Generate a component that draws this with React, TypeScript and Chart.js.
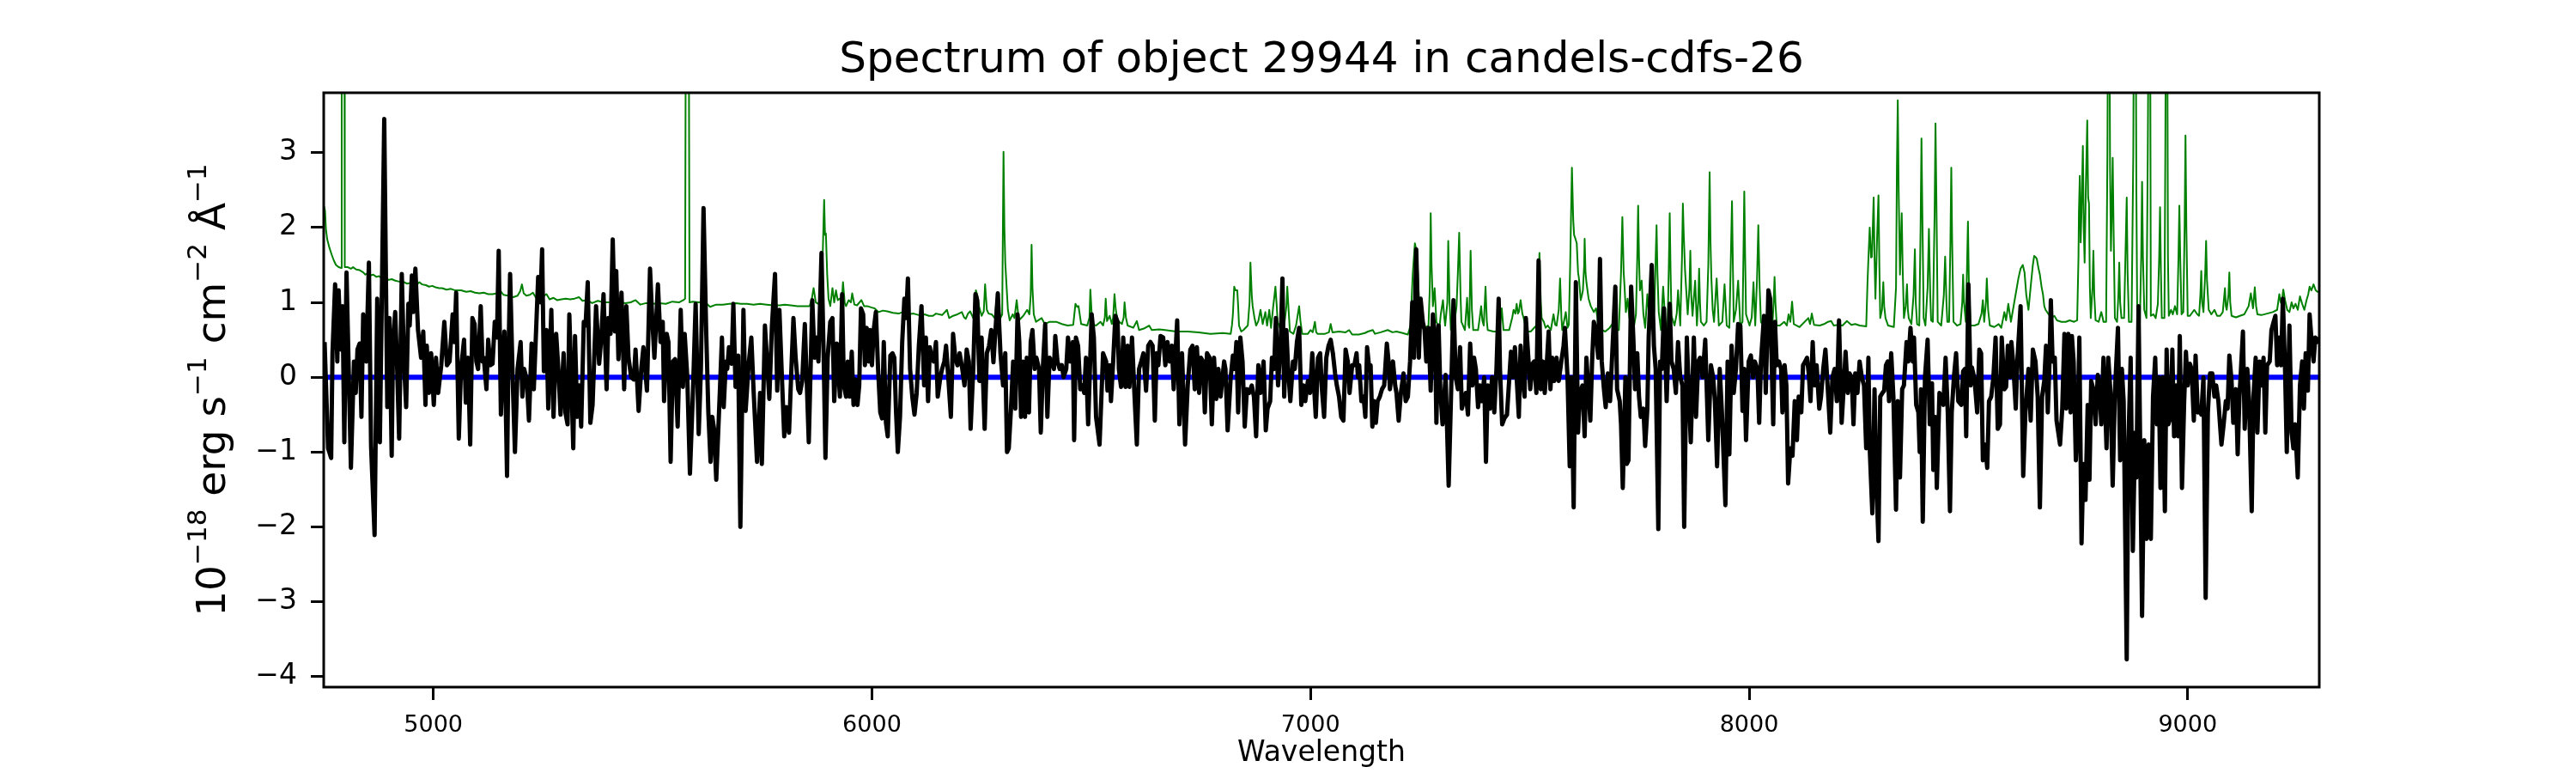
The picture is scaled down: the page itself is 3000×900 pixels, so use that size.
import { useEffect, useRef } from "react";
import { Chart, registerables } from "chart.js";

Chart.register(...registerables);

const TITLE = "Spectrum of object 29944 in candels-cdfs-26";
const X_LABEL = "Wavelength";
const Y_LABEL_PARTS: [string, boolean][] = [
  ["10", false],
  ["\u221218", true],
  [" erg s", false],
  ["\u22121", true],
  [" cm", false],
  ["\u22122", true],
  [" \u00c5", false],
  ["\u22121", true],
];
const X_MIN = 4750;
const X_MAX = 9300;
const Y_MIN = -4.14;
const Y_MAX = 3.8;
const X_TICKS = [5000, 6000, 7000, 8000, 9000];
const Y_TICKS = [-4, -3, -2, -1, 0, 1, 2, 3];

// observed flux (wavelength, value)
const FLUX: [number, number][] = [
  [4752, 0.47], [4760, -0.95], [4767, -1.08], [4770, 0.32], [4776, 1.24], [4781, 0.21], [4784, 1.16], [4789, 0.37], [4793, 0.95], [4797, -0.87],
  [4802, 1.40], [4812, -1.21], [4819, 0.21], [4823, -0.21], [4827, 0.37], [4832, 0.45], [4836, -0.53], [4840, 0.84], [4847, 0.21], [4853, 1.53],
  [4858, -0.92], [4866, -2.11], [4872, 1.05], [4878, -0.87], [4888, 3.45], [4895, -0.40], [4900, 0.79], [4905, -1.05], [4908, 0.45], [4913, 0.87],
  [4917, 0.21], [4922, -0.82], [4928, 1.38], [4933, 0.21], [4938, -0.40], [4943, 0.98], [4946, 0.69], [4951, 1.36], [4954, 0.87], [4959, 1.45],
  [4965, 0.63], [4972, 0.26], [4977, 0.61], [4982, -0.37], [4985, 0.42], [4990, -0.21], [4995, 0.32], [5001, -0.37], [5006, 0.26], [5011, -0.21],
  [5018, 0.16], [5025, 0.74], [5031, 0.16], [5037, 0.21], [5044, 0.84], [5048, 0.47], [5052, 1.13], [5058, -0.82], [5063, 0.11], [5070, 0.50],
  [5074, -0.34], [5079, 0.26], [5084, -0.90], [5089, 0.79], [5094, 0.71], [5098, 0.21], [5102, 0.11], [5108, 0.95], [5112, 0.21], [5115, 0.26],
  [5121, -0.16], [5125, 0.50], [5130, 0.16], [5135, 0.18], [5140, 0.74], [5145, 0.53], [5149, 1.69], [5154, -0.50], [5159, 0.32], [5162, 0.61],
  [5168, -1.32], [5171, 0.21], [5175, 1.38], [5181, -0.05], [5186, -1.00], [5192, 0.11], [5199, 0.47], [5203, -0.26], [5207, 0.11], [5213, -0.03],
  [5218, -0.58], [5224, 0.45], [5229, -0.16], [5239, 1.34], [5244, 1.00], [5248, 1.71], [5252, 0.08], [5258, 0.63], [5262, -0.42], [5269, 0.90],
  [5274, -0.53], [5280, 0.58], [5285, 0.11], [5290, -0.50], [5297, 0.32], [5301, -0.47], [5306, -0.63], [5310, 0.84], [5315, -0.11], [5319, -0.95],
  [5323, 0.55], [5328, -0.53], [5333, -0.11], [5337, -0.66], [5343, 0.74], [5347, 0.69], [5352, 1.27], [5358, -0.61], [5363, -0.37], [5371, 0.95],
  [5378, 0.18], [5383, 0.53], [5388, 1.11], [5395, -0.16], [5399, 0.79], [5404, 0.58], [5409, 1.84], [5414, 0.61], [5417, 1.42], [5422, 0.24],
  [5429, 1.13], [5435, -0.16], [5440, 0.95], [5445, 0.26], [5451, 0.00], [5457, -0.03], [5461, 0.37], [5468, -0.45], [5474, 0.11], [5479, 0.40],
  [5487, -0.18], [5494, 1.45], [5499, 0.79], [5504, 0.26], [5512, 1.24], [5518, 0.47], [5523, 0.74], [5526, -0.32], [5532, 0.58], [5536, 0.47],
  [5541, -1.13], [5546, 0.21], [5551, 0.24], [5557, -0.66], [5564, 0.90], [5569, -0.13], [5573, 0.58], [5579, 0.00], [5585, -1.29], [5592, -0.18],
  [5598, 0.98], [5605, -0.76], [5610, 0.11], [5616, 2.26], [5622, 0.63], [5627, -0.47], [5632, -1.13], [5636, -0.53], [5640, -0.69], [5645, -1.37],
  [5652, -0.37], [5658, 0.53], [5662, -0.40], [5667, 0.21], [5670, 0.11], [5674, 0.40], [5680, 0.18], [5684, 0.98], [5689, -0.13], [5695, 0.29],
  [5700, -2.00], [5707, 0.90], [5712, -0.45], [5719, 0.18], [5725, 0.53], [5730, -0.16], [5738, -1.13], [5745, -0.21], [5749, -1.16], [5756, 0.69],
  [5761, 0.21], [5766, -0.29], [5772, 0.69], [5779, 1.38], [5784, -0.18], [5789, 0.90], [5794, 0.11], [5800, -0.79], [5805, -0.40], [5811, -0.74],
  [5817, 0.21], [5821, 0.79], [5826, 0.26], [5832, -0.16], [5836, -0.21], [5841, -0.05], [5847, 0.71], [5856, -0.87], [5864, 1.03], [5869, 0.26],
  [5873, 0.53], [5878, 0.21], [5885, 1.66], [5890, 0.26], [5894, -1.08], [5899, 0.26], [5905, 0.74], [5910, 0.79], [5914, -0.32], [5920, 0.45],
  [5927, -0.26], [5932, 1.11], [5936, -0.11], [5941, -0.26], [5945, 0.21], [5949, -0.26], [5954, 0.34], [5958, -0.37], [5962, -0.03], [5967, -0.37],
  [5971, -0.11], [5975, 0.92], [5980, 0.84], [5984, 0.16], [5988, 0.66], [5993, 0.21], [5996, 0.63], [6000, 0.16], [6004, 0.63], [6009, 0.87],
  [6014, 0.11], [6019, -0.47], [6023, -0.55], [6027, 0.47], [6032, -0.61], [6036, -0.79], [6042, 0.29], [6047, 0.32], [6051, 0.26], [6055, -0.47],
  [6059, -1.00], [6064, -0.53], [6069, 0.47], [6074, 1.05], [6078, 0.79], [6082, 1.32], [6087, 0.11], [6092, -0.26], [6097, -0.50], [6102, -0.21],
  [6107, 0.42], [6113, 0.95], [6119, -0.11], [6123, 0.53], [6128, -0.32], [6132, 0.40], [6136, 0.26], [6141, 0.21], [6146, 0.47], [6150, -0.26],
  [6156, 0.00], [6160, 0.11], [6165, 0.21], [6169, 0.42], [6174, 0.00], [6180, -0.53], [6185, 0.58], [6190, 0.26], [6195, 0.16], [6200, 0.32],
  [6206, 0.11], [6211, -0.11], [6216, 0.37], [6221, 0.21], [6225, -0.69], [6231, 0.11], [6236, 1.11], [6240, 1.03], [6245, -0.05], [6250, 0.53],
  [6257, -0.69], [6262, 0.32], [6267, 0.42], [6272, 0.63], [6277, 0.20], [6287, 1.12], [6293, 0.32], [6299, -0.11], [6304, 0.32], [6308, -1.00],
  [6312, -0.95], [6317, -0.42], [6322, 0.21], [6327, -0.42], [6332, 0.84], [6336, 0.47], [6340, -0.53], [6345, 0.21], [6349, -0.53], [6353, 0.26],
  [6358, -0.47], [6362, 0.47], [6366, 0.63], [6371, 0.11], [6375, 0.26], [6381, 0.11], [6385, -0.74], [6390, 0.16], [6395, 0.71], [6400, -0.53],
  [6405, 0.26], [6410, 0.21], [6415, 0.11], [6418, 0.55], [6423, 0.21], [6428, 0.11], [6433, 0.16], [6437, 0.00], [6443, 0.11], [6447, 0.53],
  [6452, 0.21], [6458, 0.47], [6461, -0.84], [6465, 0.53], [6470, 0.42], [6475, -0.16], [6480, -0.11], [6484, -0.21], [6488, 0.26], [6493, -0.63],
  [6501, 0.84], [6506, 0.53], [6511, -0.53], [6519, -0.90], [6527, 0.32], [6534, 0.21], [6537, -0.18], [6542, 0.16], [6545, -0.32], [6550, 0.21],
  [6555, 0.82], [6560, 0.74], [6563, 0.11], [6568, -0.13], [6573, 0.53], [6578, -0.13], [6583, 0.42], [6587, -0.13], [6593, 0.53], [6598, -0.16],
  [6604, -0.90], [6609, 0.11], [6614, 0.21], [6619, 0.32], [6625, -0.18], [6630, 0.42], [6635, 0.47], [6640, 0.42], [6645, -0.58], [6649, 0.32],
  [6653, 0.16], [6658, 0.55], [6664, 0.53], [6669, 0.16], [6674, 0.47], [6679, 0.21], [6684, 0.42], [6688, -0.16], [6696, 0.76], [6701, -0.63],
  [6707, 0.32], [6714, -0.90], [6720, -0.11], [6726, 0.37], [6731, 0.42], [6736, -0.16], [6741, 0.40], [6746, -0.21], [6750, 0.26], [6755, 0.21],
  [6759, -0.47], [6764, 0.32], [6770, 0.26], [6775, -0.63], [6780, 0.26], [6785, -0.29], [6790, 0.11], [6795, -0.26], [6803, 0.21], [6806, 0.11],
  [6811, -0.71], [6818, 0.00], [6823, 0.29], [6827, 0.11], [6831, 0.47], [6835, -0.47], [6840, 0.53], [6845, 0.21], [6850, -0.66], [6855, -0.16],
  [6860, -0.21], [6866, -0.11], [6871, -0.26], [6876, -0.79], [6881, 0.16], [6886, -0.21], [6893, 0.21], [6898, -0.71], [6902, -0.42], [6908, -0.32],
  [6912, 0.26], [6917, 0.11], [6921, 0.79], [6926, -0.11], [6932, 0.47], [6936, 1.32], [6940, -0.26], [6945, 0.63], [6949, 0.11], [6954, -0.32],
  [6960, 0.21], [6964, 0.11], [6969, 0.47], [6974, 0.66], [6979, -0.37], [6984, -0.11], [6988, -0.32], [6994, -0.05], [6999, -0.21], [7004, 0.32],
  [7008, -0.11], [7012, -0.53], [7017, 0.26], [7022, 0.32], [7026, -0.16], [7031, -0.53], [7036, 0.26], [7041, 0.42], [7046, 0.50], [7051, 0.32],
  [7056, 0.05], [7060, -0.11], [7065, -0.26], [7070, -0.53], [7075, -0.58], [7080, 0.37], [7085, 0.21], [7089, -0.21], [7095, 0.16], [7100, 0.16],
  [7105, 0.32], [7108, 0.00], [7111, 0.16], [7116, -0.32], [7121, -0.26], [7125, -0.53], [7129, 0.40], [7134, 0.11], [7137, 0.16], [7141, -0.66],
  [7145, -0.32], [7149, -0.61], [7153, -0.32], [7158, -0.26], [7163, -0.16], [7168, -0.11], [7174, 0.45], [7178, 0.21], [7181, -0.16], [7188, 0.21],
  [7193, -0.11], [7196, -0.21], [7201, -0.58], [7206, -0.21], [7212, 0.05], [7217, -0.32], [7222, -0.26], [7227, 0.21], [7232, 1.00], [7236, 0.26],
  [7241, 1.71], [7247, 0.26], [7251, 1.05], [7256, 0.74], [7260, 0.63], [7264, 0.21], [7269, 0.66], [7274, -0.18], [7279, 0.84], [7284, 0.53],
  [7287, -0.61], [7292, 0.69], [7296, -0.18], [7301, -0.63], [7308, 0.03], [7315, -1.45], [7321, -0.11], [7326, 1.03], [7331, 0.00], [7336, -0.16],
  [7341, 0.40], [7345, -0.42], [7354, -0.21], [7359, -0.50], [7364, 0.45], [7369, -0.11], [7373, 0.26], [7377, 0.11], [7382, -0.40], [7386, -0.11],
  [7391, -0.32], [7396, 0.00], [7400, -1.13], [7404, -0.11], [7409, -0.42], [7414, 0.00], [7419, -0.47], [7424, 0.11], [7429, 1.05], [7432, 0.11],
  [7437, -0.63], [7442, -0.55], [7448, -0.50], [7457, 0.34], [7462, 0.00], [7466, 0.40], [7471, -0.11], [7475, -0.53], [7479, 0.42], [7483, 0.00],
  [7488, -0.26], [7491, 0.79], [7496, 0.32], [7501, -0.16], [7506, 0.18], [7510, 0.21], [7515, -0.21], [7520, 1.56], [7525, -0.16], [7530, 0.21],
  [7534, -0.21], [7538, 0.11], [7543, 0.61], [7547, -0.16], [7551, 0.26], [7556, -0.05], [7561, 0.26], [7566, -0.05], [7573, 0.26], [7577, 0.42],
  [7580, 0.66], [7586, 0.00], [7591, -1.19], [7595, 0.00], [7600, -1.74], [7605, 1.27], [7610, -0.74], [7614, -0.21], [7620, -0.11], [7625, -0.79],
  [7629, 0.26], [7634, -0.21], [7638, -0.58], [7642, 0.21], [7646, 0.74], [7651, 0.61], [7656, 0.26], [7660, 1.58], [7664, 0.21], [7669, -0.16],
  [7673, -0.40], [7678, 0.05], [7683, -0.32], [7688, 0.32], [7695, 1.21], [7699, -0.16], [7705, -0.32], [7708, -0.63], [7712, -1.48], [7718, 0.00],
  [7721, -1.16], [7725, -1.11], [7731, 1.21], [7736, 0.53], [7740, -0.16], [7745, 0.32], [7749, -0.26], [7753, -0.53], [7759, -0.42], [7763, -0.92],
  [7768, -0.42], [7771, 0.53], [7778, 1.50], [7783, 0.42], [7787, 0.11], [7793, -2.03], [7797, 0.21], [7801, 0.11], [7806, 0.92], [7812, -0.32],
  [7819, 0.98], [7823, 0.21], [7828, 0.11], [7833, -0.21], [7838, 0.47], [7843, 0.00], [7848, -0.11], [7852, -2.00], [7858, 0.53], [7862, -0.11],
  [7867, -0.87], [7874, 0.53], [7879, -0.53], [7884, 0.21], [7888, 0.26], [7894, 0.00], [7900, 0.50], [7907, -0.84], [7913, 0.16], [7918, 0.00],
  [7922, -0.32], [7927, -1.19], [7933, 0.11], [7938, -0.47], [7946, -1.71], [7951, 0.21], [7955, -1.03], [7960, 0.42], [7965, -0.21], [7970, 0.11],
  [7975, 0.71], [7980, 0.69], [7985, -0.45], [7989, 0.11], [7993, -0.84], [7999, 0.21], [8004, 0.29], [8009, 0.00], [8013, 0.21], [8019, 0.11],
  [8023, -0.61], [8027, 0.21], [8034, 0.82], [8038, -0.21], [8044, 1.16], [8048, 1.05], [8055, -0.63], [8059, 0.74], [8063, 0.16], [8068, 0.21],
  [8073, 0.11], [8076, -0.47], [8081, 0.16], [8085, -0.11], [8089, -1.42], [8094, -0.95], [8099, -1.05], [8104, -0.32], [8109, -0.84], [8113, -0.26],
  [8119, -0.47], [8123, 0.16], [8128, 0.21], [8132, 0.26], [8136, 0.05], [8140, -0.32], [8145, 0.47], [8149, -0.11], [8154, 0.16], [8160, -0.42],
  [8164, -0.26], [8169, 0.11], [8174, 0.37], [8179, -0.11], [8185, -0.74], [8190, 0.00], [8195, 0.11], [8200, -0.32], [8205, 0.76], [8211, -0.61],
  [8216, -0.11], [8220, 0.34], [8225, -0.21], [8229, 0.05], [8234, 0.00], [8238, -0.63], [8242, 0.05], [8247, -0.21], [8252, 0.21], [8257, 0.00],
  [8262, -0.11], [8267, -0.95], [8272, 0.26], [8275, -0.95], [8281, -1.82], [8286, -0.16], [8290, -1.37], [8295, -2.19], [8299, -0.26], [8304, -0.21],
  [8308, -0.18], [8312, 0.16], [8316, 0.21], [8319, -0.32], [8324, 0.32], [8329, -0.26], [8335, -1.77], [8339, -0.32], [8344, -1.34], [8349, -0.16],
  [8353, -0.11], [8359, 0.47], [8363, 0.21], [8368, 0.66], [8373, 0.21], [8376, 0.53], [8381, -0.37], [8386, -0.47], [8389, -1.00], [8392, -0.16],
  [8396, -1.93], [8401, 0.00], [8407, 0.50], [8412, -0.63], [8417, -0.08], [8420, -1.24], [8425, -0.53], [8428, -1.48], [8434, -0.21], [8438, -0.26],
  [8443, -0.37], [8448, 0.26], [8453, -0.47], [8458, -1.79], [8462, -0.47], [8467, 0.00], [8472, 0.32], [8477, -0.32], [8484, -0.37], [8488, 0.08],
  [8492, 0.11], [8495, -0.79], [8500, 1.24], [8505, -0.11], [8508, 0.13], [8514, -0.03], [8520, -0.47], [8525, 0.37], [8529, 0.32], [8533, -1.11],
  [8538, -0.90], [8543, -1.21], [8547, -0.32], [8552, -0.26], [8557, 0.00], [8562, 0.53], [8567, -0.69], [8572, -0.63], [8576, 0.53], [8582, -0.16],
  [8586, -0.13], [8590, 0.42], [8595, 0.00], [8598, 0.47], [8602, 0.21], [8608, -0.42], [8612, 0.26], [8619, 0.95], [8625, -1.32], [8630, -0.47],
  [8637, 0.11], [8642, -0.58], [8647, 0.37], [8653, 0.21], [8658, -0.26], [8663, -1.74], [8668, -0.26], [8673, -0.05], [8677, 0.42], [8681, -0.47],
  [8685, 0.21], [8688, 1.03], [8692, 0.21], [8697, 0.26], [8701, -0.58], [8705, -0.74], [8709, -0.90], [8714, -0.42], [8719, 0.58], [8723, -0.42],
  [8728, 0.58], [8733, -0.47], [8736, 0.55], [8740, 0.21], [8745, -1.11], [8749, -0.63], [8753, 0.53], [8758, -2.22], [8762, -1.16], [8767, -1.64],
  [8772, -0.37], [8776, -1.37], [8780, -0.05], [8785, -0.16], [8790, -0.63], [8795, 0.03], [8799, -0.11], [8803, -0.63], [8808, 0.26], [8815, -0.95],
  [8819, 0.26], [8824, -0.21], [8829, -1.45], [8834, -0.21], [8841, 0.66], [8846, -1.11], [8850, 0.11], [8854, -0.32], [8861, -3.77], [8865, -0.84],
  [8870, 0.26], [8875, -2.32], [8880, -0.74], [8883, -1.34], [8888, 0.95], [8891, -0.58], [8896, -3.19], [8901, -0.84], [8906, -2.16], [8911, -0.90],
  [8916, -2.16], [8921, -0.26], [8926, 0.26], [8930, -0.63], [8934, 0.00], [8938, -1.48], [8943, 0.00], [8948, -1.79], [8952, 0.37], [8956, -0.63],
  [8961, -0.53], [8965, 0.37], [8969, -0.79], [8974, -0.11], [8978, -0.79], [8982, 0.55], [8987, -1.48], [8992, -0.32], [8996, 0.34], [9000, -0.11],
  [9005, 0.18], [9009, 0.11], [9014, -0.58], [9018, 0.29], [9023, -0.47], [9028, -0.42], [9031, -0.50], [9036, 0.00], [9041, -2.95], [9046, -0.47],
  [9051, 0.05], [9056, 0.05], [9061, -0.26], [9065, -0.11], [9070, -0.32], [9077, -0.90], [9082, -0.63], [9087, -0.32], [9091, -0.42], [9095, 0.29],
  [9100, -0.05], [9104, -0.61], [9110, -0.16], [9114, -1.03], [9118, -0.26], [9121, 0.05], [9126, 0.61], [9130, -0.69], [9136, 0.11], [9140, -0.32],
  [9146, -1.79], [9150, -0.26], [9155, 0.26], [9159, -0.74], [9164, 0.21], [9168, -0.11], [9173, 0.26], [9177, -0.74], [9181, 0.16], [9187, 0.21],
  [9191, 0.63], [9196, 0.74], [9200, 0.82], [9204, 0.16], [9209, 0.53], [9213, 0.16], [9217, 1.05], [9222, 0.11], [9226, -1.00], [9232, 0.69],
  [9237, -0.74], [9241, -0.95], [9245, -0.63], [9251, -1.34], [9256, -0.11], [9261, 0.21], [9265, -0.42], [9269, 0.32], [9274, -0.18], [9278, 0.84],
  [9282, 0.53], [9287, 0.21], [9291, 0.53], [9295, 0.47], [9300, 0.53],
];

// noise / sky spectrum (wavelength, value); spikes above the top are clipped
const NOISE: [number, number][] = [
  [4751, 2.28], [4753, 2.22], [4755, 1.98], [4758, 1.84], [4763, 1.73], [4768, 1.64], [4773, 1.56], [4778, 1.50], [4784, 1.47], [4790, 1.46],
  [4791, 6], [4797, 6], [4798, 1.47], [4805, 1.47], [4812, 1.45], [4817, 1.47], [4824, 1.44], [4832, 1.43], [4840, 1.40], [4845, 1.37],
  [4850, 1.39], [4856, 1.36], [4863, 1.37], [4870, 1.34], [4876, 1.35], [4883, 1.32], [4890, 1.33], [4898, 1.30], [4905, 1.31], [4913, 1.29],
  [4920, 1.28], [4927, 1.27], [4933, 1.27], [4940, 1.25], [4948, 1.26], [4955, 1.24], [4963, 1.24], [4968, 1.27], [4974, 1.24], [4983, 1.23],
  [4990, 1.21], [4998, 1.22], [5005, 1.20], [5013, 1.19], [5020, 1.19], [5030, 1.17], [5040, 1.18], [5050, 1.16], [5063, 1.16], [5075, 1.14],
  [5085, 1.15], [5095, 1.13], [5105, 1.12], [5115, 1.13], [5125, 1.11], [5135, 1.11], [5145, 1.12], [5152, 1.16], [5160, 1.10], [5170, 1.09],
  [5182, 1.07], [5192, 1.09], [5198, 1.15], [5202, 1.24], [5206, 1.12], [5212, 1.09], [5220, 1.10], [5227, 1.13], [5234, 1.06], [5242, 1.05],
  [5250, 1.08], [5258, 1.11], [5265, 1.04], [5274, 1.06], [5282, 1.03], [5292, 1.04], [5302, 1.05], [5312, 1.04], [5322, 1.05], [5332, 1.07],
  [5340, 1.02], [5350, 1.03], [5362, 0.99], [5375, 1.02], [5388, 1.00], [5400, 1.00], [5412, 0.99], [5425, 1.00], [5438, 0.99], [5450, 1.00],
  [5461, 1.03], [5472, 0.97], [5485, 0.99], [5500, 0.98], [5515, 0.99], [5530, 0.98], [5545, 1.01], [5560, 1.00], [5570, 1.03], [5574, 1.05],
  [5576, 6], [5582, 6], [5584, 1.00], [5592, 1.01], [5605, 1.00], [5618, 1.01], [5631, 0.94], [5645, 0.97], [5660, 0.97], [5675, 0.98],
  [5690, 0.99], [5701, 0.98], [5715, 0.98], [5730, 0.97], [5745, 0.98], [5760, 0.97], [5775, 0.96], [5790, 0.96], [5801, 0.97], [5815, 0.96],
  [5830, 0.95], [5845, 0.95], [5858, 0.95], [5863, 1.05], [5867, 1.19], [5872, 1.00], [5878, 0.98], [5885, 1.10], [5888, 1.69], [5891, 2.37],
  [5893, 1.90], [5895, 1.92], [5898, 1.37], [5901, 1.05], [5905, 0.95], [5910, 1.19], [5914, 1.00], [5918, 1.16], [5922, 1.03], [5927, 1.05],
  [5931, 1.00], [5934, 1.27], [5938, 0.99], [5941, 0.95], [5947, 1.03], [5952, 1.00], [5955, 1.12], [5960, 0.97], [5966, 0.96], [5976, 1.03],
  [5982, 0.95], [5989, 0.95], [6000, 0.93], [6006, 0.92], [6015, 0.87], [6025, 0.89], [6035, 0.88], [6048, 0.86], [6061, 0.85], [6070, 0.87],
  [6081, 0.84], [6095, 0.85], [6107, 0.83], [6120, 0.84], [6130, 0.82], [6139, 0.82], [6146, 0.85], [6160, 0.83], [6171, 0.90], [6176, 0.79],
  [6185, 0.82], [6195, 0.84], [6205, 0.87], [6210, 0.80], [6214, 0.78], [6219, 0.85], [6224, 0.88], [6231, 0.79], [6237, 1.16], [6241, 1.08],
  [6244, 0.95], [6250, 0.82], [6255, 0.88], [6258, 1.24], [6262, 0.90], [6266, 0.85], [6273, 0.84], [6280, 0.79], [6286, 1.13], [6290, 0.90],
  [6293, 0.79], [6297, 0.84], [6300, 3.01], [6302, 2.00], [6304, 1.53], [6307, 1.21], [6310, 0.90], [6314, 0.76], [6321, 0.84], [6325, 0.79],
  [6330, 1.03], [6335, 0.76], [6345, 0.82], [6354, 0.90], [6359, 0.84], [6362, 1.10], [6364, 1.77], [6366, 1.20], [6369, 0.84], [6374, 0.74],
  [6387, 0.79], [6394, 0.71], [6405, 0.74], [6420, 0.74], [6433, 0.71], [6446, 0.69], [6459, 0.70], [6464, 0.98], [6468, 0.94], [6471, 0.95],
  [6477, 0.71], [6491, 0.69], [6496, 0.80], [6498, 1.17], [6501, 0.85], [6503, 0.71], [6511, 0.69], [6521, 0.74], [6527, 0.69], [6531, 0.80],
  [6533, 1.05], [6536, 0.75], [6542, 0.82], [6547, 0.71], [6550, 0.80], [6553, 1.11], [6556, 0.90], [6560, 0.76], [6570, 0.71], [6574, 0.80],
  [6576, 1.00], [6579, 0.80], [6583, 0.69], [6596, 0.66], [6604, 0.75], [6609, 0.63], [6620, 0.65], [6632, 0.69], [6638, 0.63], [6655, 0.64],
  [6668, 0.63], [6694, 0.61], [6720, 0.61], [6745, 0.60], [6772, 0.58], [6800, 0.59], [6818, 0.58], [6821, 0.70], [6823, 0.84], [6826, 1.21],
  [6829, 1.16], [6833, 1.16], [6835, 0.95], [6837, 0.69], [6842, 0.61], [6847, 0.63], [6857, 0.69], [6861, 1.00], [6863, 1.53], [6866, 1.10],
  [6868, 0.95], [6872, 0.80], [6876, 0.69], [6881, 0.75], [6886, 0.90], [6891, 0.71], [6897, 0.87], [6901, 0.69], [6906, 0.90], [6910, 0.66],
  [6915, 0.95], [6918, 1.10], [6920, 1.21], [6923, 0.95], [6925, 0.74], [6930, 0.66], [6935, 0.95], [6940, 0.69], [6945, 0.95], [6947, 1.21],
  [6950, 0.90], [6953, 0.61], [6961, 0.58], [6967, 0.69], [6970, 0.80], [6974, 0.95], [6977, 0.75], [6981, 0.58], [6994, 0.58], [7000, 0.63],
  [7005, 0.60], [7010, 0.74], [7013, 0.60], [7016, 0.58], [7033, 0.58], [7042, 0.60], [7046, 0.71], [7050, 0.60], [7065, 0.61], [7080, 0.60],
  [7088, 0.63], [7095, 0.57], [7110, 0.57], [7124, 0.59], [7131, 0.61], [7142, 0.63], [7147, 0.58], [7160, 0.60], [7176, 0.63], [7187, 0.60],
  [7196, 0.61], [7210, 0.59], [7222, 0.57], [7228, 0.69], [7233, 1.37], [7238, 1.79], [7243, 1.64], [7248, 0.95], [7254, 0.74], [7261, 0.66],
  [7269, 0.69], [7272, 1.20], [7274, 2.19], [7276, 1.50], [7279, 0.95], [7283, 1.19], [7287, 0.74], [7294, 0.66], [7297, 0.84], [7302, 1.03],
  [7305, 0.80], [7307, 0.69], [7312, 1.00], [7314, 1.82], [7317, 1.00], [7320, 0.63], [7326, 0.63], [7333, 0.95], [7336, 1.40], [7339, 1.93],
  [7342, 1.10], [7344, 0.74], [7352, 0.63], [7357, 1.06], [7360, 0.70], [7362, 0.66], [7365, 1.69], [7368, 0.90], [7371, 0.63], [7382, 0.63],
  [7386, 0.80], [7389, 0.95], [7392, 0.75], [7395, 0.69], [7399, 1.21], [7402, 0.75], [7404, 0.63], [7417, 0.61], [7431, 0.61], [7436, 0.92],
  [7440, 0.63], [7453, 0.63], [7460, 0.80], [7463, 0.90], [7467, 0.85], [7470, 0.98], [7473, 0.85], [7475, 0.87], [7479, 1.03], [7483, 0.85],
  [7486, 0.79], [7492, 0.61], [7502, 0.61], [7515, 0.69], [7519, 1.10], [7522, 1.66], [7525, 1.00], [7527, 0.79], [7532, 0.74], [7536, 0.66],
  [7541, 0.69], [7548, 0.63], [7554, 0.84], [7558, 0.70], [7561, 0.69], [7566, 0.90], [7569, 1.32], [7572, 0.80], [7574, 0.63], [7582, 0.87],
  [7586, 0.66], [7589, 0.70], [7592, 1.50], [7596, 2.80], [7599, 2.10], [7601, 1.90], [7604, 1.85], [7607, 1.79], [7610, 1.40], [7612, 1.32],
  [7616, 1.03], [7619, 1.10], [7621, 1.16], [7624, 1.50], [7625, 1.85], [7627, 1.40], [7629, 1.27], [7634, 1.05], [7639, 0.95], [7646, 0.87],
  [7651, 0.92], [7654, 0.80], [7657, 0.63], [7665, 0.63], [7672, 0.61], [7682, 0.66], [7688, 0.71], [7695, 0.63], [7703, 0.63], [7708, 1.40],
  [7711, 2.14], [7714, 1.40], [7716, 1.21], [7719, 0.87], [7723, 1.05], [7727, 0.79], [7732, 0.74], [7737, 0.66], [7742, 0.84], [7745, 1.60],
  [7747, 2.29], [7749, 1.60], [7751, 1.16], [7755, 1.29], [7759, 0.84], [7763, 0.66], [7768, 1.11], [7773, 0.74], [7779, 0.63], [7784, 0.90],
  [7787, 1.60], [7789, 2.03], [7791, 1.40], [7794, 0.87], [7799, 0.63], [7804, 1.21], [7809, 0.74], [7814, 0.63], [7817, 1.50], [7819, 2.19],
  [7821, 1.40], [7823, 0.82], [7830, 0.69], [7835, 0.85], [7838, 1.16], [7843, 0.69], [7847, 1.60], [7849, 2.32], [7851, 1.90], [7854, 1.42],
  [7860, 0.84], [7864, 1.20], [7866, 1.69], [7868, 1.10], [7871, 0.82], [7877, 1.29], [7881, 0.69], [7884, 1.00], [7886, 1.45], [7888, 1.00],
  [7890, 0.74], [7897, 0.69], [7903, 0.74], [7907, 1.50], [7910, 2.74], [7912, 1.80], [7914, 1.32], [7917, 0.90], [7920, 0.74], [7926, 1.32],
  [7931, 0.69], [7939, 0.74], [7944, 1.24], [7949, 0.69], [7955, 0.66], [7958, 1.50], [7961, 2.35], [7963, 1.50], [7965, 0.74], [7970, 0.90],
  [7975, 1.29], [7980, 0.69], [7985, 0.74], [7987, 1.60], [7989, 2.48], [7991, 1.60], [7993, 0.84], [8001, 0.69], [8006, 0.80], [8010, 1.27],
  [8014, 0.69], [8018, 1.30], [8021, 2.03], [8024, 1.20], [8027, 0.74], [8034, 0.66], [8044, 0.71], [8053, 0.69], [8056, 1.00], [8058, 1.34],
  [8060, 1.00], [8063, 0.69], [8070, 0.69], [8080, 0.74], [8086, 0.69], [8090, 0.84], [8094, 0.74], [8098, 1.01], [8102, 0.71], [8115, 0.67],
  [8135, 0.79], [8139, 0.71], [8143, 0.85], [8148, 0.70], [8161, 0.69], [8171, 0.71], [8180, 0.74], [8187, 0.75], [8193, 0.69], [8203, 0.70],
  [8213, 0.69], [8223, 0.75], [8233, 0.70], [8242, 0.71], [8252, 0.69], [8267, 0.68], [8270, 1.27], [8272, 1.58], [8275, 2.00], [8278, 1.60],
  [8280, 1.61], [8282, 2.00], [8284, 2.40], [8286, 1.60], [8288, 1.05], [8292, 1.90], [8295, 2.43], [8297, 1.50], [8299, 0.79], [8303, 0.90],
  [8306, 1.27], [8308, 0.95], [8311, 0.79], [8317, 0.69], [8330, 0.67], [8335, 1.20], [8337, 2.80], [8339, 3.70], [8341, 2.50], [8344, 1.37],
  [8346, 1.80], [8348, 2.19], [8350, 1.50], [8353, 0.79], [8357, 0.95], [8360, 1.24], [8362, 0.90], [8364, 0.79], [8370, 0.71], [8375, 1.10],
  [8378, 1.71], [8380, 1.00], [8383, 0.71], [8388, 0.69], [8391, 2.00], [8393, 3.19], [8395, 2.20], [8398, 0.79], [8402, 0.69], [8407, 1.20],
  [8410, 1.98], [8413, 1.10], [8415, 0.76], [8419, 0.74], [8423, 2.20], [8425, 3.39], [8427, 2.40], [8430, 0.74], [8438, 0.69], [8444, 1.10],
  [8447, 1.61], [8450, 1.00], [8452, 0.74], [8456, 0.74], [8459, 1.80], [8461, 2.80], [8463, 1.80], [8466, 0.74], [8474, 0.69], [8482, 0.71],
  [8486, 1.00], [8488, 1.37], [8490, 1.00], [8494, 0.74], [8497, 1.50], [8499, 2.08], [8501, 1.30], [8505, 0.69], [8514, 0.69], [8523, 0.71],
  [8530, 0.85], [8533, 1.03], [8536, 0.74], [8540, 1.00], [8542, 1.32], [8545, 0.90], [8549, 0.69], [8559, 0.67], [8569, 0.71], [8575, 0.66],
  [8582, 0.87], [8586, 0.76], [8591, 0.98], [8597, 0.74], [8604, 0.98], [8609, 1.15], [8614, 1.32], [8619, 1.45], [8624, 1.50], [8628, 1.40],
  [8632, 1.10], [8637, 0.90], [8643, 1.27], [8647, 1.50], [8650, 1.62], [8654, 1.60], [8656, 1.58], [8660, 1.45], [8663, 1.37], [8667, 1.20],
  [8670, 1.11], [8673, 0.95], [8676, 0.90], [8683, 0.84], [8689, 0.79], [8696, 0.82], [8702, 0.76], [8712, 0.74], [8722, 0.74], [8731, 0.76],
  [8741, 0.74], [8748, 0.76], [8751, 1.60], [8752, 2.20], [8754, 2.69], [8756, 1.80], [8758, 2.22], [8761, 3.09], [8763, 2.00], [8765, 1.53],
  [8768, 2.60], [8771, 3.43], [8773, 2.40], [8775, 2.32], [8777, 1.20], [8779, 0.79], [8783, 1.20], [8785, 1.69], [8787, 1.10], [8790, 0.76],
  [8797, 0.74], [8803, 0.87], [8806, 0.80], [8808, 0.74], [8814, 0.74], [8817, 3.00], [8819, 6], [8821, 6], [8823, 2.80], [8825, 1.69],
  [8827, 2.20], [8829, 2.93], [8831, 2.00], [8834, 0.79], [8839, 0.74], [8842, 1.10], [8844, 1.53], [8846, 1.00], [8849, 0.79], [8855, 0.79],
  [8858, 1.60], [8861, 2.40], [8863, 1.40], [8866, 0.74], [8872, 0.74], [8876, 3.00], [8878, 6], [8881, 6], [8883, 2.50], [8885, 0.79],
  [8891, 0.74], [8894, 1.60], [8896, 2.61], [8898, 1.60], [8901, 0.90], [8906, 0.79], [8909, 3.00], [8912, 6], [8914, 6], [8916, 0.82],
  [8922, 0.84], [8927, 0.79], [8932, 0.98], [8935, 1.60], [8937, 2.27], [8939, 1.40], [8941, 0.79], [8947, 0.79], [8949, 3.00], [8951, 6],
  [8953, 6], [8955, 1.60], [8957, 0.82], [8962, 0.90], [8966, 0.84], [8971, 0.95], [8976, 0.84], [8979, 1.60], [8981, 2.29], [8983, 1.60],
  [8986, 0.84], [8990, 0.87], [8993, 2.00], [8995, 3.23], [8997, 2.00], [9000, 0.82], [9005, 0.82], [9015, 0.90], [9022, 0.84], [9026, 0.82],
  [9029, 1.10], [9031, 1.42], [9033, 1.00], [9036, 0.87], [9040, 1.40], [9042, 1.82], [9044, 1.30], [9048, 0.90], [9054, 0.84], [9061, 0.90],
  [9067, 0.82], [9074, 0.82], [9080, 0.87], [9085, 1.19], [9087, 0.95], [9089, 0.90], [9093, 1.10], [9095, 1.40], [9097, 1.00], [9100, 0.82],
  [9110, 0.80], [9119, 0.82], [9129, 0.84], [9139, 0.95], [9144, 1.12], [9147, 1.00], [9149, 0.92], [9153, 1.20], [9156, 0.95], [9159, 0.84],
  [9168, 0.83], [9181, 0.85], [9194, 0.87], [9204, 0.90], [9209, 1.11], [9212, 1.00], [9214, 0.98], [9218, 1.17], [9222, 1.03], [9227, 0.90],
  [9232, 0.87], [9237, 1.00], [9241, 0.92], [9246, 0.98], [9251, 0.90], [9256, 1.08], [9261, 0.98], [9266, 0.90], [9271, 1.03], [9275, 1.11],
  [9278, 1.21], [9282, 1.16], [9287, 1.24], [9292, 1.16], [9296, 1.14], [9300, 1.14],
];

// zero-level model line
const MODEL: [number, number][] = [
  [4750, 0],
  [9300, 0],
];

const FONT = "'DejaVu Sans', 'Liberation Sans', sans-serif";

const toPoints = (arr: [number, number][]) => arr.map(([x, y]) => ({ x, y }));
const fmt = (v: number) => (v < 0 ? "\u2212" + Math.abs(v) : String(v));

const decorPlugin = {
  id: "decor",
  afterDraw(chart: any) {
    const { ctx, chartArea } = chart;
    const { left, right, top, bottom } = chartArea;
    ctx.save();
    // frame
    ctx.strokeStyle = "#000";
    ctx.lineWidth = 3;
    ctx.strokeRect(left, top, right - left, bottom - top);
    ctx.fillStyle = "#000";
    const cx = (left + right) / 2;
    // title
    ctx.font = `50px ${FONT}`;
    ctx.textAlign = "center";
    ctx.textBaseline = "alphabetic";
    ctx.fillText(TITLE, cx, 84);
    // x label
    ctx.font = `33px ${FONT}`;
    ctx.fillText(X_LABEL, cx, 886);
    // y label with superscripts
    const mainSize = 47;
    const supSize = 31;
    const widths = Y_LABEL_PARTS.map(([t, sup]) => {
      ctx.font = `${sup ? supSize : mainSize}px ${FONT}`;
      return ctx.measureText(t).width;
    });
    const total = widths.reduce((a, b) => a + b, 0);
    ctx.translate(262, (top + bottom) / 2);
    ctx.rotate(-Math.PI / 2);
    ctx.textAlign = "left";
    let x = -total / 2;
    Y_LABEL_PARTS.forEach(([t, sup], i) => {
      ctx.font = `${sup ? supSize : mainSize}px ${FONT}`;
      ctx.fillText(t, x, sup ? -22 : 0);
      x += widths[i];
    });
    ctx.restore();
  },
};

export default function App() {
  const canvasRef = useRef<HTMLCanvasElement | null>(null);

  useEffect(() => {
    if (!canvasRef.current) return;
    const lineBase = {
      pointRadius: 0,
      pointHoverRadius: 0,
      tension: 0,
      fill: false,
      clip: 0,
      borderJoinStyle: "round" as const,
      borderCapStyle: "butt" as const,
    };
    const chart = new Chart(canvasRef.current, {
      type: "line",
      data: {
        datasets: [
          { ...lineBase, label: "flux", data: toPoints(FLUX), borderColor: "#000000", borderWidth: 5, order: 0 },
          { ...lineBase, label: "model", data: toPoints(MODEL), borderColor: "#0000ff", borderWidth: 6, order: 1 },
          { ...lineBase, label: "noise", data: toPoints(NOISE), borderColor: "#008000", borderWidth: 2, order: 2 },
        ],
      },
      options: {
        animation: false,
        responsive: false,
        devicePixelRatio: 1,
        events: [],
        parsing: false,
        layout: { padding: { top: 108, right: 299, left: 0, bottom: 0 } },
        plugins: {
          legend: { display: false },
          title: { display: false },
          tooltip: { enabled: false },
        },
        scales: {
          x: {
            type: "linear",
            min: X_MIN,
            max: X_MAX,
            afterFit: (s: any) => {
              s.height = 100;
            },
            afterBuildTicks: (s: any) => {
              s.ticks = X_TICKS.map((v) => ({ value: v }));
            },
            ticks: {
              color: "#000",
              font: { family: FONT, size: 27 },
              padding: 14,
              maxRotation: 0,
              autoSkip: false,
              callback: (v: any) => fmt(Number(v)),
            },
            grid: { drawOnChartArea: false, drawTicks: true, tickLength: 15, tickWidth: 3, tickColor: "#000" },
            border: { display: false },
          },
          y: {
            type: "linear",
            min: Y_MIN,
            max: Y_MAX,
            afterFit: (s: any) => {
              s.width = 377;
            },
            afterBuildTicks: (s: any) => {
              s.ticks = Y_TICKS.map((v) => ({ value: v }));
            },
            ticks: {
              color: "#000",
              font: { family: FONT, size: 33 },
              padding: 16,
              autoSkip: false,
              callback: (v: any) => fmt(Number(v)),
            },
            grid: { drawOnChartArea: false, drawTicks: true, tickLength: 15, tickWidth: 3, tickColor: "#000" },
            border: { display: false },
          },
        },
      } as any,
      plugins: [decorPlugin],
    });
    return () => chart.destroy();
  }, []);

  return (
    <div style={{ position: "absolute", left: 0, top: 0, width: 3000, height: 900, background: "#fff" }}>
      <canvas ref={canvasRef} width={3000} height={900} style={{ width: 3000, height: 900, display: "block" }} />
    </div>
  );
}
